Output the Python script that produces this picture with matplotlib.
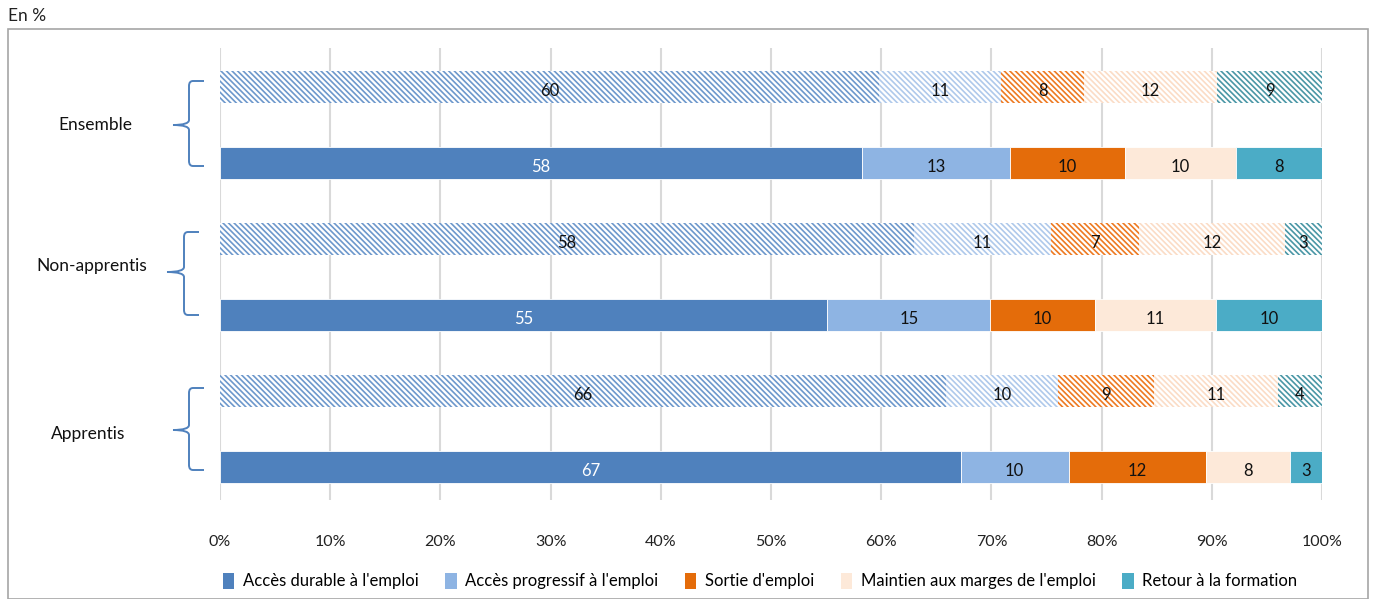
import matplotlib
matplotlib.use("Agg")
import matplotlib.pyplot as plt
from matplotlib.patches import Rectangle, PathPatch, Patch
from matplotlib.path import Path

plt.rcParams['font.family'] = ['Lato', 'DejaVu Sans']
plt.rcParams['hatch.linewidth'] = 1.2

# ---- data ----
groups = ["Ensemble", "Non-apprentis", "Apprentis"]
series = ["Accès durable à l'emploi", "Accès progressif à l'emploi", "Sortie d'emploi",
          "Maintien aux marges de l'emploi", "Retour à la formation"]

# bar widths (%) as drawn, and the printed labels
ens_hatched = [59.8, 11.1, 7.5, 12.1, 9.5]
ens_hatched_lbl = ["60", "11", "8", "12", "9"]
ens_solid = [58.3, 13.4, 10.4, 10.1, 7.8]
ens_solid_lbl = ["58", "13", "10", "10", "8"]
non_hatched = [63.0, 12.4, 8.0, 13.2, 3.4]
non_hatched_lbl = ["58", "11", "7", "12", "3"]
non_solid = [55.1, 14.8, 9.5, 11.0, 9.6]
non_solid_lbl = ["55", "15", "10", "11", "10"]
app_hatched = [65.9, 10.1, 8.8, 11.2, 4.0]
app_hatched_lbl = ["66", "10", "9", "11", "4"]
app_solid = [67.2, 9.8, 12.5, 7.6, 2.9]
app_solid_lbl = ["67", "10", "12", "8", "3"]

xticks = [0, 10, 20, 30, 40, 50, 60, 70, 80, 90, 100]

rows = [
    (ens_hatched, ens_hatched_lbl, True),
    (ens_solid, ens_solid_lbl, False),
    (non_hatched, non_hatched_lbl, True),
    (non_solid, non_solid_lbl, False),
    (app_hatched, app_hatched_lbl, True),
    (app_solid, app_solid_lbl, False),
]

solid_colors = ["#4F81BD", "#8EB4E3", "#E46C0A", "#FDE9D9", "#4BACC6"]
hatch_colors = ["#6D98CC", "#AFC9EB", "#EE7A22", "#FBDCC6", "#4A97A6"]

W, H = 1374, 599
fig = plt.figure(figsize=(W / 100, H / 100), dpi=100)

# outer frame
fig.patches.append(Rectangle((8 / W, 0), (1368 - 8) / W, 1 - 29 / H,
                             transform=fig.transFigure, fill=False,
                             edgecolor="#A6A6A6", linewidth=1.2))
fig.text(8 / W, 1 - 16 / H, "En %", fontsize=12.5, va="center", ha="left", color="#222222")

ax = fig.add_axes([220 / W, 1 - 500 / H, (1322 - 220) / W, (500 - 48) / H])
ax.set_xlim(0, 100)
ax.set_ylim(5.434, -0.513)
bar_h = 0.41

for i, (vals, lbls, hatched) in enumerate(rows):
    left = 0
    for k, (v, lb) in enumerate(zip(vals, lbls)):
        if hatched:
            ax.barh(i, v, left=left, height=bar_h, color="white",
                    edgecolor=hatch_colors[k], hatch="\\\\\\\\\\\\", linewidth=0, zorder=3)
            tc = "#111111"
        else:
            ax.barh(i, v, left=left, height=bar_h, color=solid_colors[k],
                    edgecolor="white", linewidth=0.6, zorder=3)
            tc = "white" if k == 0 else "#111111"
        ax.text(left + v / 2, i + 0.05, lb, ha="center", va="center",
                fontsize=12, color=tc, zorder=4)
        left += v

ax.set_xticks(xticks)
ax.set_xticklabels([f"{t}%" for t in xticks], fontsize=11.5, color="#222222")
ax.set_yticks([])
ax.tick_params(axis="x", length=0, pad=25)
ax.grid(axis="x", color="#D9D9D9", linewidth=1.5, zorder=0)
for s in ax.spines.values():
    s.set_visible(False)

# group labels and braces (figure pixel coordinates)
group_y = [125, 266, 434]
group_x = [95, 92, 88]
brace_spec = [(81, 166, 125, 189, 173), (232, 315, 272, 184, 167), (388, 470, 430, 189, 173)]
for g, gy, gx in zip(groups, group_y, group_x):
    fig.text(gx / W, 1 - gy / H, g, fontsize=12.5, ha="center", va="center", color="#111111")

def px(x, y):
    return (x / W, 1 - y / H)

for (top, bot, mid, xv, xt) in brace_spec:
    xr = xv + 15
    verts = [px(xr, top), px(xv + 4, top),
             px(xv, top), px(xv, top + 5),
             px(xv, mid - 5),
             px(xv, mid), px(xt, mid),
             px(xv, mid), px(xv, mid + 5),
             px(xv, bot - 5),
             px(xv, bot), px(xv + 4, bot),
             px(xr, bot)]
    codes = [Path.MOVETO, Path.LINETO,
             Path.CURVE3, Path.CURVE3,
             Path.LINETO,
             Path.CURVE3, Path.CURVE3,
             Path.CURVE3, Path.CURVE3,
             Path.LINETO,
             Path.CURVE3, Path.CURVE3,
             Path.LINETO]
    fig.patches.append(PathPatch(Path(verts, codes), transform=fig.transFigure,
                                 fill=False, edgecolor="#4F81BD", linewidth=1.4))

handles = [Patch(facecolor=c, edgecolor="none") for c in solid_colors]
fig.legend(handles, series, loc="center", bbox_to_anchor=(760 / W, 1 - 581 / H), ncol=5,
           frameon=False, fontsize=12, handlelength=0.7, handleheight=1.1,
           handletextpad=0.5, columnspacing=1.6)

fig.savefig("out.png", dpi=100)
